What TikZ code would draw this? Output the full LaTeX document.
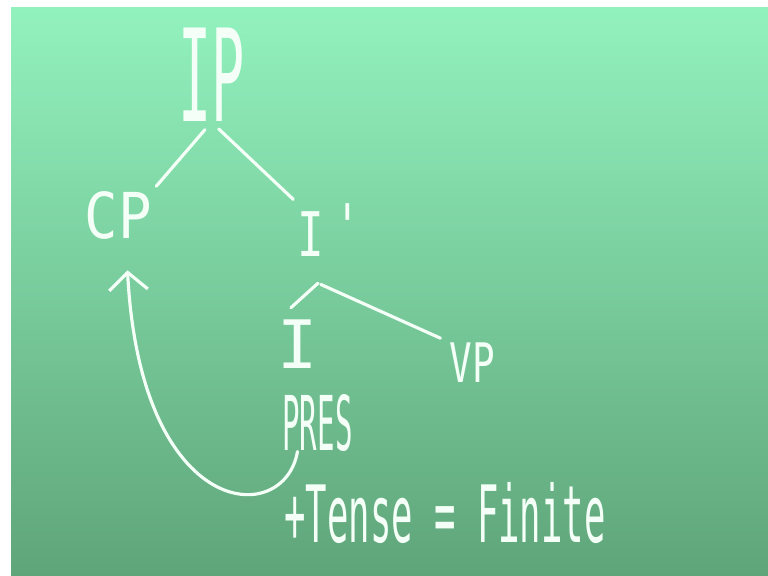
\documentclass[tikz,border=0pt]{standalone}
\usepackage{fontspec}
\setmonofont{DejaVu Sans Mono}
\usetikzlibrary{arrows.meta,positioning}
\definecolor{boardTop}{HTML}{92F2BE}
\definecolor{boardMid}{HTML}{6CBF8C}
\definecolor{boardLow}{HTML}{5FA57A}
\definecolor{chalkWhite}{HTML}{F4FFF7}
\newcommand{\chalk}[3]{{\fontsize{#1}{#1}\selectfont\ttfamily\scalebox{#2}[1]{#3}}}
\tikzset{
  cat/.style={inner sep=0pt,text=chalkWhite},
  branch/.style={draw=chalkWhite,line width=1.8pt,line cap=round},
  move/.style={branch,-{Straight Barb[length=10pt,width=22pt]}},
}

\begin{document}
\begin{tikzpicture}
  % board
  \fill[white] (0,0) rectangle (15.36,11.52);
  \shade[top color=boardTop,middle color=boardMid,bottom color=boardLow] (0.22,0) rectangle (15.36,11.36);
  % tree
  \node[cat] (IP) at (4.23,10.02) {\chalk{73}{0.43}{IP}};
  \node[cat] (CP) at (2.37,7.22) {\chalk{36}{0.88}{CP}};
  \node[cat] (Ibar) at (6.58,6.92) {\chalk{35}{0.72}{I\hspace{8pt}\raisebox{5pt}{'}}};
  \node[cat] (I) at (5.96,4.63) {\chalk{38}{1.0}{I}};
  \node[cat] (VP) at (9.45,4.27) {\chalk{31}{0.69}{VP}};
  \node[cat] (PRES) at (6.35,3.07) {\chalk{43}{0.385}{PRES}};
  \node[cat] (feat) at (8.9,1.26) {\chalk{45}{0.45}{+Tense = Finite}};
  \draw[branch,shorten <=0.2cm,shorten >=0.12cm] (IP.south) -- (CP.north east);
  \draw[branch,shorten <=0.2cm,shorten >=0.1cm] (IP.south) -- (Ibar.north west);
  \draw[branch,shorten >=0.36cm] ([shift={(-0.22,-0.52)}]Ibar.south) -- (I.north west);
  \draw[branch,shorten <=0.06cm,shorten >=0.2cm] ([shift={(-0.22,-0.52)}]Ibar.south) -- (VP.north west);
  % movement
  \draw[move] ([xshift=-0.4cm]PRES.south) .. controls +(-0.26,-1.54) and +(0.26,-5.02) .. ([shift={(0.18,-0.62)}]CP.south);
\end{tikzpicture}
\end{document}
